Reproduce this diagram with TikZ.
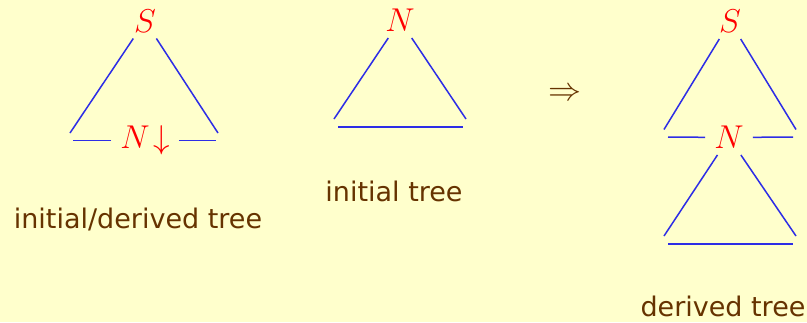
\RequirePackage{fix-cm}
\documentclass[tikz,border=0pt]{standalone}
\usepackage{fontspec}
\newfontfamily\capfont{DejaVu Sans}
\usepackage{tikz}
\usepackage{xcolor}
\usetikzlibrary{positioning}

\definecolor{bgyellow}{RGB}{255,255,204}
\definecolor{capbrown}{RGB}{102,51,0}
\definecolor{linkblue}{RGB}{45,45,230}

\begin{document}
\begin{tikzpicture}[
    x=1pt, y=-1pt,
    lbl/.style={text=red, inner sep=6pt, font=\fontsize{33}{38}\selectfont},
    foot/.style={lbl, inner xsep=9pt},
    branch/.style={draw=linkblue, line width=1.5pt},
    caption/.style={text=capbrown, inner sep=0pt, font=\capfont\fontsize{27}{31}\selectfont}
]

\useasboundingbox (0,0) rectangle (807,322);
\fill[bgyellow] (0,0) rectangle (807,322);

% initial/derived tree
\node[lbl] (s1) at (145,21) {$S$};
\node[foot] (n1) at (145,140.7) {$N\!\downarrow$};
\coordinate (s1l) at (70,133);
\coordinate (s1r) at (218,133);
\coordinate (n1l) at (73,140.7);
\coordinate (n1r) at (216,140.7);
\draw[branch] (s1) -- (s1l);
\draw[branch] (s1) -- (s1r);
\draw[branch] (n1) -- (n1l);
\draw[branch] (n1) -- (n1r);
\node[caption] (cap1) at (138,219) {initial/derived tree};

% initial tree
\node[lbl] (n2) at (400,20.5) {$N$};
\coordinate (n2l) at (334,119);
\coordinate (n2r) at (466,119);
\coordinate (b2l) at (338,127);
\coordinate (b2r) at (463,127);
\draw[branch] (n2) -- (n2l);
\draw[branch] (n2) -- (n2r);
\draw[branch] (b2l) -- (b2r);
\node[caption] (cap2) at (394,191) {initial tree};

\node[lbl, text=capbrown] (yields) at (565,94) {$\Rightarrow$};

% derived tree
\node[lbl] (s3) at (730,21.5) {$S$};
\node[foot] (n3) at (729,137.5) {$N$};
\coordinate (s3l) at (664,129.5);
\coordinate (s3r) at (796,129.5);
\coordinate (m3l) at (668,137);
\coordinate (m3r) at (793,137);
\coordinate (n3l) at (664,236);
\coordinate (n3r) at (796,236);
\coordinate (b3l) at (668,244);
\coordinate (b3r) at (793,244);
\draw[branch] (s3) -- (s3l);
\draw[branch] (s3) -- (s3r);
\draw[branch] (n3) -- (m3l);
\draw[branch] (n3) -- (m3r);
\draw[branch] (n3) -- (n3l);
\draw[branch] (n3) -- (n3r);
\draw[branch] (b3l) -- (b3r);
\node[caption] (cap3) at (723,306) {derived tree};

\end{tikzpicture}
\end{document}
